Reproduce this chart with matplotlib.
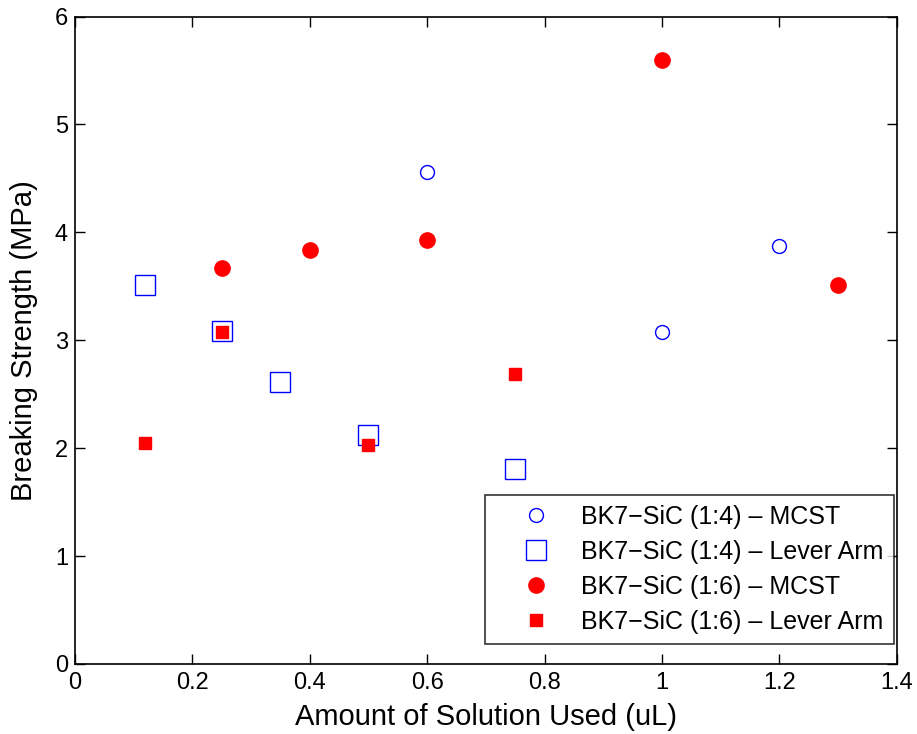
import matplotlib
matplotlib.use("Agg")
from matplotlib import pyplot as plt

plt.rcParams['font.family'] = ['Liberation Sans', 'DejaVu Sans']

# datos
x_14_mcst = [0.6, 1.0, 1.2]
y_14_mcst = [4.56, 3.08, 3.87]

x_14_lever = [0.12, 0.25, 0.35, 0.5, 0.75]
y_14_lever = [3.51, 3.09, 2.61, 2.12, 1.81]

x_16_mcst = [0.25, 0.4, 0.6, 1.0, 1.3]
y_16_mcst = [3.67, 3.84, 3.93, 5.60, 3.51]

x_16_lever = [0.12, 0.25, 0.5, 0.75]
y_16_lever = [2.05, 3.08, 2.03, 2.69]

etiquetas = ["BK7\u2212SiC (1:4) \u2013 MCST", "BK7\u2212SiC (1:4) \u2013 Lever Arm",
             "BK7\u2212SiC (1:6) \u2013 MCST", "BK7\u2212SiC (1:6) \u2013 Lever Arm"]

fig = plt.figure(figsize=(9.17, 7.34), dpi=100)
ax = fig.add_axes([0.0818, 0.0954, 0.896, 0.882])

ax.plot(x_14_mcst, y_14_mcst, 'o', mfc='none', mec='b', ms=10, mew=1.0, label=etiquetas[0])
ax.plot(x_14_lever, y_14_lever, 's', mfc='none', mec='b', ms=14, mew=1.0, label=etiquetas[1])
ax.plot(x_16_mcst, y_16_mcst, 'o', mfc='r', mec='r', ms=11, label=etiquetas[2])
ax.plot(x_16_lever, y_16_lever, 's', mfc='r', mec='r', ms=9, label=etiquetas[3])

ax.set_xlim(0, 1.4)
ax.set_ylim(0, 6)
ax.set_xticks([0, 0.2, 0.4, 0.6, 0.8, 1, 1.2, 1.4])
ax.set_xticklabels(["0", "0.2", "0.4", "0.6", "0.8", "1", "1.2", "1.4"])
ax.set_yticks(range(7))
ax.tick_params(direction='in', top=True, right=True, labelsize=17, length=7, width=1)
ax.tick_params(axis='x', pad=6)
ax.tick_params(axis='y', pad=5)
for s in ax.spines.values():
    s.set_linewidth(1.2)

ax.set_xlabel("Amount of Solution Used (uL)", fontsize=21, labelpad=6)
ax.set_ylabel("Breaking Strength (MPa)", fontsize=21, labelpad=12)

leg = ax.legend(loc='lower right', bbox_to_anchor=(0.9965, 0.0309), fontsize=18,
                frameon=True, fancybox=False, edgecolor='k', borderpad=0.4,
                labelspacing=0.44, handletextpad=0.2, handlelength=3.25, borderaxespad=0)
leg.get_frame().set_linewidth(1.2)

fig.savefig("out.png", dpi=100)
